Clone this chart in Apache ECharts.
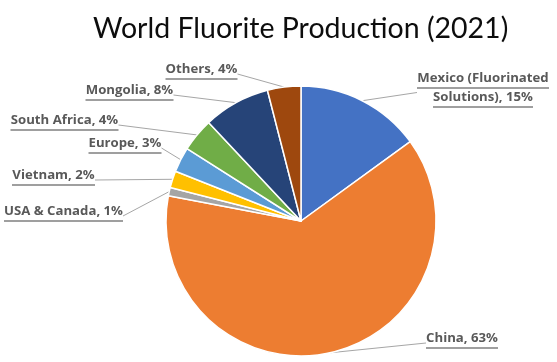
<!DOCTYPE html>
<html>
<head>
<meta charset="utf-8">
<script src="https://cdn.jsdelivr.net/npm/echarts@6/dist/echarts.min.js"></script>
<style>
html,body{margin:0;padding:0;background:#fff;}
#chart{width:557px;height:362px;}
</style>
</head>
<body>
<div id="chart"></div>
<script>
// ---- data ----
var titleText = 'World Fluorite Production (2021)';
var categories = ['Mexico (Fluorinated Solutions)', 'China', 'USA & Canada', 'Vietnam', 'Europe', 'South Africa', 'Mongolia', 'Others'];
var shares = [15, 63, 1, 2, 3, 4, 8, 4];
var labelLines = [
  ['Mexico (Fluorinated', 'Solutions), 15%'],
  ['China, 63%'],
  ['USA & Canada, 1%'],
  ['Vietnam, 2%'],
  ['Europe, 3%'],
  ['South Africa, 4%'],
  ['Mongolia, 8%'],
  ['Others, 4%']
];

// ---- style / layout ----
var colors = ['#4472C4', '#ED7D31', '#A5A5A5', '#FFC000', '#5B9BD5', '#70AD47', '#264478', '#9E480E'];
var labelFont = 'Open Sans';
var labelSize = 13.2;
// label anchor positions (center x, top y)
var labelPos = [
  [483, 71], [462, 331], [63.5, 204], [53.5, 168], [125, 136], [64.5, 113], [129.5, 83], [201.5, 62]
];

var ctx = document.createElement('canvas').getContext('2d');
ctx.font = 'bold ' + labelSize + 'px "' + labelFont + '"';
function tw(s) { return Math.ceil(ctx.measureText(s).width); }

var data = categories.map(function (c, i) {
  var rich = {
    t: { fontFamily: labelFont, fontWeight: 'bold', fontSize: labelSize, color: '#595959', lineHeight: 15 }
  };
  var parts = [];
  labelLines[i].forEach(function (ln, k) {
    var key = 'u' + k;
    rich[key] = { width: tw(ln), height: 1.5, lineHeight: 4, backgroundColor: '#7f7f7f' };
    parts.push('{t|' + ln + '}\n{' + key + '|}');
  });
  return {
    name: c,
    value: shares[i],
    itemStyle: { color: colors[i] },
    label: { formatter: parts.join('\n'), rich: rich }
  };
});

var chart = echarts.init(document.getElementById('chart'));
chart.setOption({
  animation: false,
  backgroundColor: '#ffffff',
  title: {
    text: titleText,
    left: 88,
    top: 7,
    textStyle: { fontFamily: 'Lato', fontSize: 28.5, fontWeight: 'normal', color: '#0d0d0d', lineHeight: 33 }
  },
  series: [{
    type: 'pie',
    center: [301, 221],
    radius: 135,
    startAngle: 90,
    clockwise: true,
    avoidLabelOverlap: false,
    itemStyle: { borderColor: '#ffffff', borderWidth: 1.5 },
    label: { show: true, position: 'outside', align: 'center' },
    labelLine: { show: true, length: 10, length2: 0, lineStyle: { color: '#a6a6a6', width: 1 } },
    labelLayout: function (p) {
      var pos = labelPos[p.dataIndex];
      return { x: pos[0], y: pos[1], align: 'center', verticalAlign: 'top', hideOverlap: false };
    },
    data: data
  }]
});
</script>
</body>
</html>
